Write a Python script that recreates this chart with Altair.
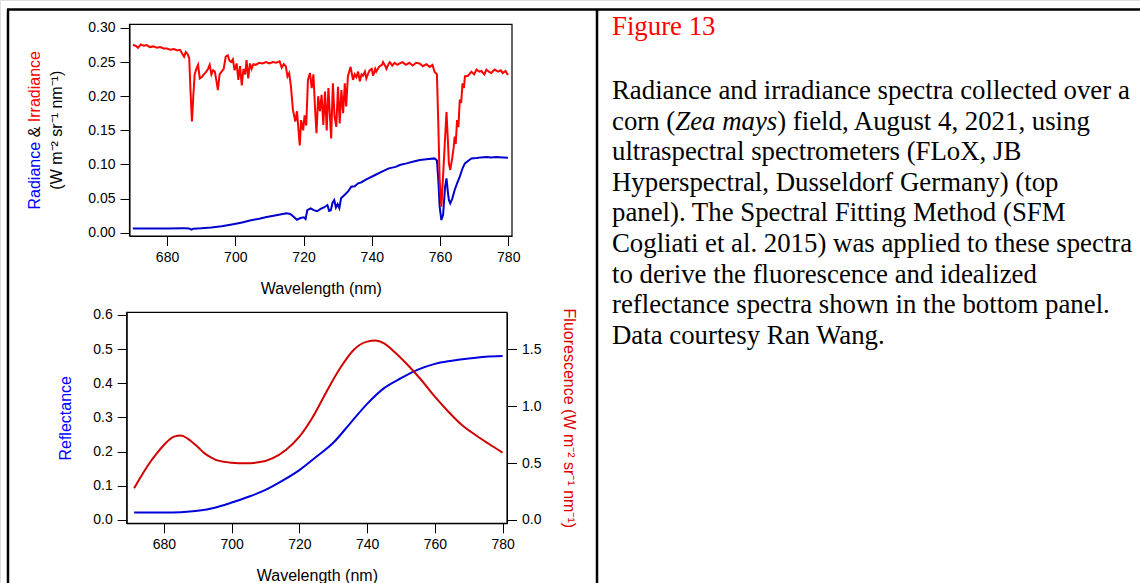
import altair as alt
import pandas as pd

# ---------------- data ----------------
irr_wl = [670.0, 670.8, 671.5, 672.3, 673.2, 674.0, 675.0, 676.0, 677.0, 678.0, 679.0, 680.0,
          681.0, 682.0, 683.0, 683.8, 684.5, 685.0, 685.5, 686.0, 686.5, 686.9, 687.3, 687.7,
          688.1, 688.6, 689.1, 689.6, 690.2, 690.8, 691.5, 692.0, 692.5, 693.0, 693.5, 694.0,
          694.5, 694.9, 695.4, 696.0, 696.6, 697.2, 697.8, 698.3, 698.8, 699.3, 699.8, 700.4,
          700.9, 701.4, 701.9, 702.4, 702.9, 703.3, 703.8, 704.3, 704.8, 705.3, 706.0, 707.0,
          708.0, 709.0, 710.0, 711.0, 712.0, 713.0, 713.6, 714.2, 714.8, 715.3, 715.8, 716.3,
          716.9, 717.3, 717.6, 718.1, 718.6, 718.9, 719.3, 719.9, 720.3, 720.8, 721.3, 721.9,
          722.4, 722.9, 723.4, 723.8, 724.3, 724.8, 725.3, 725.8, 726.3, 726.8, 727.3, 727.7,
          728.1, 728.6, 729.1, 729.6, 730.1, 730.6, 731.1, 731.6, 732.1, 732.5, 733.0, 733.8,
          734.5, 735.0, 735.5, 736.0, 736.5, 737.0, 737.4, 738.0, 738.4, 739.0, 739.4, 740.0,
          740.4, 741.0, 741.3, 742.0, 742.3, 743.0, 743.3, 744.0, 744.3, 745.0, 745.3, 746.0,
          746.7, 747.5, 748.2, 749.0, 750.0, 751.0, 752.0, 753.0, 754.0, 755.0, 756.0, 757.0,
          757.8, 758.4, 759.1, 759.5, 759.9, 760.4, 760.9, 761.5, 761.9, 762.3, 762.6, 763.0,
          763.6, 764.0, 764.3, 764.6, 765.0, 765.4, 765.8, 766.2, 766.6, 767.0, 767.3, 768.2,
          769.2, 770.0, 770.7, 771.5, 772.1, 773.0, 773.6, 774.3, 775.0, 776.0, 777.0, 777.8,
          778.4, 779.2, 779.9]
irr_val = [0.275, 0.274, 0.271, 0.276, 0.274, 0.275, 0.272, 0.273, 0.271, 0.272, 0.270, 0.270,
           0.268, 0.269, 0.267, 0.268, 0.262, 0.258, 0.265, 0.262, 0.256, 0.205, 0.163, 0.200,
           0.232, 0.240, 0.246, 0.226, 0.228, 0.232, 0.236, 0.240, 0.246, 0.232, 0.238, 0.236,
           0.222, 0.209, 0.232, 0.236, 0.240, 0.258, 0.260, 0.252, 0.250, 0.254, 0.238, 0.248,
           0.224, 0.244, 0.216, 0.240, 0.232, 0.253, 0.226, 0.248, 0.240, 0.247, 0.246, 0.249,
           0.248, 0.250, 0.248, 0.250, 0.249, 0.251, 0.242, 0.247, 0.244, 0.229, 0.234, 0.215,
           0.180, 0.170, 0.163, 0.178, 0.146, 0.128, 0.165, 0.150, 0.172, 0.157, 0.224, 0.234,
           0.212, 0.232, 0.180, 0.146, 0.200, 0.178, 0.202, 0.158, 0.207, 0.150, 0.212, 0.175,
           0.138, 0.219, 0.170, 0.155, 0.214, 0.160, 0.209, 0.175, 0.219, 0.185, 0.229, 0.243,
           0.224, 0.232, 0.228, 0.236, 0.222, 0.232, 0.230, 0.236, 0.226, 0.234, 0.238, 0.240,
           0.230, 0.240, 0.236, 0.242, 0.244, 0.246, 0.250, 0.244, 0.240, 0.248, 0.250, 0.245,
           0.249, 0.246, 0.248, 0.250, 0.246, 0.249, 0.245, 0.249, 0.248, 0.244, 0.247, 0.243,
           0.246, 0.236, 0.232, 0.160, 0.077, 0.038, 0.083, 0.140, 0.177, 0.136, 0.102, 0.092,
           0.110, 0.125, 0.141, 0.130, 0.165, 0.155, 0.195, 0.190, 0.219, 0.212, 0.229, 0.230,
           0.236, 0.232, 0.239, 0.236, 0.237, 0.232, 0.239, 0.236, 0.234, 0.239, 0.236, 0.238,
           0.234, 0.237, 0.231]

rad_wl = [670.0, 675.0, 680.0, 685.0, 686.5, 687.1, 687.7, 690.0, 693.0, 696.0, 699.4, 702.0,
          704.3, 707.0, 709.2, 712.0, 715.0, 716.1, 717.1, 718.1, 719.1, 720.1, 720.6, 721.1,
          722.1, 723.0, 724.0, 725.0, 726.0, 727.0, 727.5, 728.0, 728.5, 729.0, 729.5, 730.0,
          730.5, 731.0, 732.0, 733.0, 734.0, 735.0, 736.0, 737.0, 738.0, 739.0, 741.0, 743.0,
          745.0, 747.0, 748.2, 750.2, 752.0, 754.1, 756.0, 758.4, 759.1, 759.5, 759.9, 760.4,
          760.9, 761.5, 761.9, 762.3, 762.6, 763.0, 763.6, 764.3, 765.0, 765.8, 766.6, 767.3,
          768.2, 769.2, 770.7, 772.1, 773.6, 775.0, 776.5, 778.4, 779.9]
rad_val = [0.0062, 0.0063, 0.0062, 0.0064, 0.0063, 0.0045, 0.0060, 0.0064, 0.0075, 0.0095,
           0.0125, 0.0150, 0.0180, 0.0205, 0.0230, 0.0255, 0.0284, 0.0275, 0.0235, 0.0190,
           0.0215, 0.0225, 0.0200, 0.0330, 0.0357, 0.0330, 0.0315, 0.0350, 0.0370, 0.0406,
           0.0320, 0.0330, 0.0440, 0.0479, 0.0370, 0.0420, 0.0360, 0.0504, 0.0553, 0.0601,
           0.0675, 0.0680, 0.0724, 0.0740, 0.0770, 0.0797, 0.0846, 0.0895, 0.0943, 0.0965,
           0.0992, 0.1016, 0.1040, 0.1065, 0.1075, 0.1089, 0.1060, 0.0773, 0.0381, 0.0186,
           0.0260, 0.0675, 0.0797, 0.0600, 0.0480, 0.0431, 0.0500, 0.0626, 0.0724, 0.0822,
           0.0944, 0.1016, 0.1050, 0.1089, 0.1095, 0.1104, 0.1110, 0.1104, 0.1110, 0.1104,
           0.1098]

refl_wl = [671.2, 675, 680, 685, 690, 695, 700, 705, 710, 715, 720, 725, 730, 735, 740, 745,
           750, 755, 760, 765, 770, 775, 780]
refl_val = [0.022, 0.022, 0.022, 0.023, 0.027, 0.036, 0.051, 0.068, 0.088, 0.115, 0.146, 0.185,
            0.226, 0.283, 0.340, 0.386, 0.415, 0.440, 0.457, 0.466, 0.473, 0.478, 0.480]

fluo_wl = [671.2, 673, 675, 678, 680, 683, 685, 687, 690, 692, 694, 696, 700, 704, 708, 712,
           716, 720, 724, 728, 732, 736, 740, 742.5, 745, 748, 752, 756, 760, 764, 768, 772,
           776, 780]
fluo_val = [0.278, 0.37, 0.468, 0.59, 0.659, 0.732, 0.741, 0.715, 0.64, 0.585, 0.548, 0.521,
            0.503, 0.498, 0.506, 0.541, 0.615, 0.732, 0.907, 1.127, 1.332, 1.493, 1.566, 1.575,
            1.551, 1.478, 1.361, 1.229, 1.083, 0.951, 0.834, 0.746, 0.667, 0.591]

wl_ticks = [680, 700, 720, 740, 760, 780]
top_y_ticks = [0.0, 0.05, 0.10, 0.15, 0.20, 0.25, 0.30]
refl_ticks = [0.0, 0.1, 0.2, 0.3, 0.4, 0.5, 0.6]
fluo_ticks = [0.0, 0.5, 1.0, 1.5]

caption_title = "Figure 13"
caption_lines = [
    "Radiance and irradiance spectra collected over a",
    None,  # line with italic part
    "ultraspectral spectrometers (FLoX, JB",
    "Hyperspectral, Dusseldorf Germany) (top",
    "panel). The Spectral Fitting Method (SFM",
    "Cogliati et al. 2015) was applied to these spectra",
    "to derive the fluorescence and idealized",
    "reflectance spectra shown in the bottom panel.",
    "Data courtesy Ran Wang.",
]
line2_parts = ["corn (", "Zea mays", ") field, August 4, 2021, using"]

# ---------------- layout / style ----------------
W, H = 1140, 583
TX0, TX1, TY0, TY1 = 129.5, 512.0, 24.3, 236.0
BX0, BX1, BY0, BY1 = 126.7, 507.0, 312.3, 523.3
SANS = "Liberation Sans"
SERIF = "Liberation Serif"
CAP_FS = 26.8
CAP_X = 612
CAP_BASE0 = 99
CAP_LH = 30.6

ax = dict(labelFont=SANS, labelFontSize=14, labelColor="black", tickColor="black",
          domainColor="black", tickSize=9.5, tickWidth=1, domainWidth=1, grid=False,
          titleFont=SANS, titleFontSize=16, titleFontWeight="normal", labelFlush=False,
          labelOverlap=False)

top_df = pd.concat([
    pd.DataFrame({"wl": rad_wl, "val": rad_val, "series": "Radiance"}),
    pd.DataFrame({"wl": irr_wl, "val": irr_val, "series": "Irradiance"}),
])

top = alt.Chart(top_df).mark_line(strokeWidth=2).encode(
    x=alt.X("wl:Q", scale=alt.Scale(domain=[669, 781.1], range=[TX0, TX1], nice=False, zero=False),
            axis=alt.Axis(orient="bottom", offset=TY1 - H, values=wl_ticks, title="Wavelength (nm)",
                          titleY=57, titleBaseline="alphabetic", titleColor="black", labelPadding=5, **ax)),
    y=alt.Y("val:Q", scale=alt.Scale(domain=[-0.0048, 0.3054], range=[TY1, TY0], nice=False, zero=False),
            axis=alt.Axis(orient="left", offset=-TX0, values=top_y_ticks, format=".2f", title=None,
                          labelPadding=5, **ax)),
    color=alt.Color("series:N", scale=alt.Scale(domain=["Radiance", "Irradiance"],
                                                range=["#0000cc", "#ff0000"]), legend=None),
)

refl_df = pd.DataFrame({"wl": refl_wl, "val": refl_val})
fluo_df = pd.DataFrame({"wl": fluo_wl, "val": fluo_val})
bx_scale = alt.Scale(domain=[669, 781.3], range=[BX0, BX1], nice=False, zero=False)

refl = alt.Chart(refl_df).mark_line(strokeWidth=2, color="#0000dd", interpolate="monotone").encode(
    x=alt.X("wl:Q", scale=bx_scale,
            axis=alt.Axis(orient="bottom", offset=BY1 - H, values=wl_ticks, title="Wavelength (nm)",
                          titleY=57, titleBaseline="alphabetic", titleColor="black", labelPadding=5, **ax)),
    y=alt.Y("val:Q", scale=alt.Scale(domain=[-0.0097, 0.6079], range=[BY1, BY0], nice=False, zero=False),
            axis=alt.Axis(orient="left", offset=-BX0, values=refl_ticks, format=".1f", title="Reflectance",
                          titleColor="#0000ff", titleAngle=270, titleX=-56, titleBaseline="alphabetic",
                          labelPadding=5, **ax)),
)

fluo = alt.Chart(fluo_df).mark_line(strokeWidth=2, color="#d00000", interpolate="monotone").encode(
    x=alt.X("wl:Q", scale=bx_scale, axis=None),
    y=alt.Y("val:Q", scale=alt.Scale(domain=[-0.0291, 1.8237], range=[BY1, BY0], nice=False, zero=False),
            axis=alt.Axis(orient="right", offset=BX1 - W, values=fluo_ticks, format=".1f",
                          title="Fluorescence (W m\u207b\u00b2 sr\u207b\u00b9 nm\u207b\u00b9)",
                          titleColor="#e00000", titleAngle=90, titleX=56, titleBaseline="alphabetic",
                          labelPadding=5, **ax)),
)

one = alt.Data(values=[{}])


def frame(x0, x1, y0, y1):
    return alt.Chart(one).mark_rect(fillOpacity=0, stroke="black", strokeWidth=1.2).encode(
        x=alt.value(x0), x2=alt.value(x1), y=alt.value(y0), y2=alt.value(y1))


def rule(x0, x1, y0, y1):
    return alt.Chart(one).mark_rule(color="black", strokeWidth=2.5).encode(
        x=alt.value(x0), x2=alt.value(x1), y=alt.value(y0), y2=alt.value(y1))


def txt(s, x, y, **kw):
    return alt.Chart(one).mark_text(**kw).encode(text=alt.value(s), x=alt.value(x), y=alt.value(y))


# top-panel y title (two lines, coloured words)
ymid = (TY0 + TY1) / 2
ytitle = [
    txt("Radiance", 40, 209.5, angle=270, align="left", baseline="alphabetic", font=SANS, fontSize=16, color="#0000ff"),
    txt("&", 40, 132, angle=270, align="center", baseline="alphabetic", font=SANS, fontSize=16, color="black"),
    txt("Irradiance", 40, 51, angle=270, align="right", baseline="alphabetic", font=SANS, fontSize=16, color="#ff0000"),
    txt("(W m\u207b\u00b2 sr\u207b\u00b9 nm\u207b\u00b9)", 62, ymid, angle=270, align="center",
        baseline="alphabetic", font=SANS, fontSize=16, color="black"),
]

# caption
cap = [txt(caption_title, CAP_X, 35, align="left", baseline="alphabetic", font=SERIF,
           fontSize=CAP_FS, color="#ff0000")]
for i, line in enumerate(caption_lines):
    yb = CAP_BASE0 + i * CAP_LH
    if line is None:
        x1 = CAP_X + 2.36 * CAP_FS
        x2 = x1 + 3.805 * CAP_FS
        cap.append(txt(line2_parts[0], CAP_X, yb, align="left", baseline="alphabetic", font=SERIF,
                       fontSize=CAP_FS, color="black"))
        cap.append(txt(line2_parts[1], x1, yb, align="left", baseline="alphabetic", font=SERIF,
                       fontSize=CAP_FS, fontStyle="italic", color="black"))
        cap.append(txt(line2_parts[2], x2, yb, align="left", baseline="alphabetic", font=SERIF,
                       fontSize=CAP_FS, color="black"))
    else:
        cap.append(txt(line, CAP_X, yb, align="left", baseline="alphabetic", font=SERIF,
                       fontSize=CAP_FS, color="black"))

borders = [
    rule(8, 8, 9.5, 700),
    rule(7, 1200, 9.5, 9.5),
    rule(597, 597, 9.5, 700),
]

chart = alt.layer(
    top, refl, fluo,
    frame(TX0, TX1, TY0, TY1), frame(BX0, BX1, BY0, BY1),
    *ytitle, *cap, *borders,
).resolve_scale(x="independent", y="independent", color="independent").properties(
    width=W, height=H, autosize=alt.AutoSizeParams(type="none"), padding=0,
).configure_view(stroke=None).configure(background="white")

chart.save("out.html", embed_options={"renderer": "svg", "actions": False})
